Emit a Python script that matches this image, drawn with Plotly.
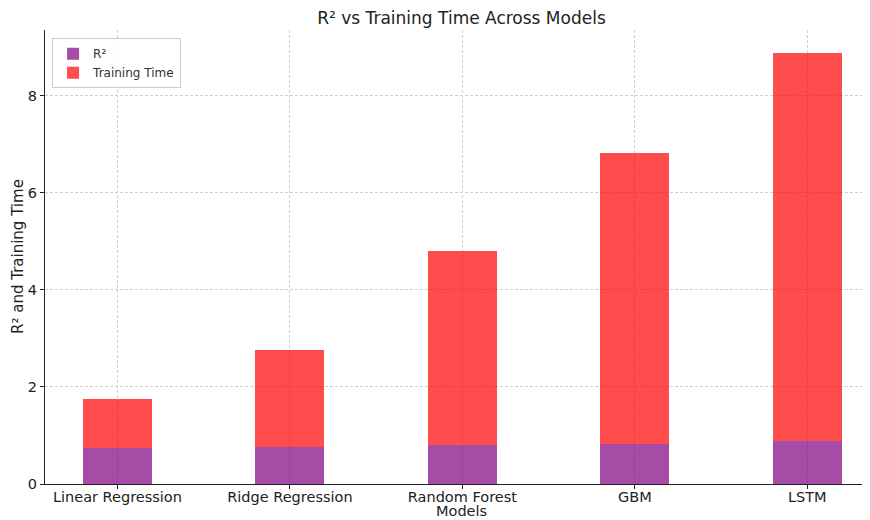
import plotly.graph_objects as go

models = ["Linear Regression", "Ridge Regression", "Random Forest", "GBM", "LSTM"]
r2 = [0.75, 0.76, 0.81, 0.83, 0.89]
train_time = [1.0, 2.0, 4.0, 6.0, 8.0]
y_ticks = [0, 2, 4, 6, 8]

font = "DejaVu Sans"
fig = go.Figure()
fig.add_trace(go.Bar(x=list(range(len(models))), y=r2, name="R²", width=0.4,
                     marker=dict(color="rgba(128,0,128,0.7)", line=dict(width=0))))
fig.add_trace(go.Bar(x=list(range(len(models))), y=train_time, name="Training Time", width=0.4,
                     marker=dict(color="rgba(255,0,0,0.7)", line=dict(width=0))))

fig.update_layout(
    barmode="stack",
    width=870, height=520,
    margin=dict(l=37, r=0, t=22, b=44, autoexpand=False),
    plot_bgcolor="white", paper_bgcolor="white",
    font=dict(family=font, size=14, color="#222"),
    title=dict(text="R² vs Training Time Across Models", x=0.5, xanchor="center",
               xref="paper", y=0.981, yref="container", yanchor="middle",
               font=dict(size=17, family=font, color="#222")),
    legend=dict(x=0.0085, y=0.982, xanchor="left", yanchor="top", bgcolor="rgba(255,255,255,0.8)",
                bordercolor="#ccc", borderwidth=1, font=dict(size=12, family=font, color="#333"),
                itemwidth=30, tracegroupgap=0, traceorder="normal"),
    showlegend=True,
    annotations=[
        dict(text="Models", x=0.5, xref="paper", y=0, yshift=-17, yref="paper", yanchor="top",
             xanchor="center", showarrow=False, font=dict(size=14.5, family=font, color="#222")),
        dict(text="R² and Training Time", x=0, xshift=-27, xref="paper", y=0.5, yref="paper",
             textangle=-90, xanchor="center", yanchor="middle", showarrow=False,
             font=dict(size=15, family=font, color="#222")),
    ],
)

fig.update_xaxes(
    range=[-0.42, 4.41], tickmode="array", tickvals=list(range(len(models))), ticktext=models,
    showline=True, linecolor="#222", linewidth=1.2, ticks="outside", ticklen=4, tickcolor="#222",
    showgrid=True, gridcolor="#d0d0d0", griddash="3px,2px", gridwidth=0.8,
    zeroline=False, automargin=False, tickfont=dict(size=14.5), ticklabelstandoff=-5,
)
fig.update_yaxes(
    range=[0, 9.36], tickmode="array", tickvals=y_ticks,
    showline=True, linecolor="#222", linewidth=1.2, ticks="outside", ticklen=4, tickcolor="#222",
    showgrid=True, gridcolor="#d0d0d0", griddash="3px,2px", gridwidth=0.8,
    zeroline=False, automargin=False, tickfont=dict(size=14.5),
)
fig.write_html("out.html")
